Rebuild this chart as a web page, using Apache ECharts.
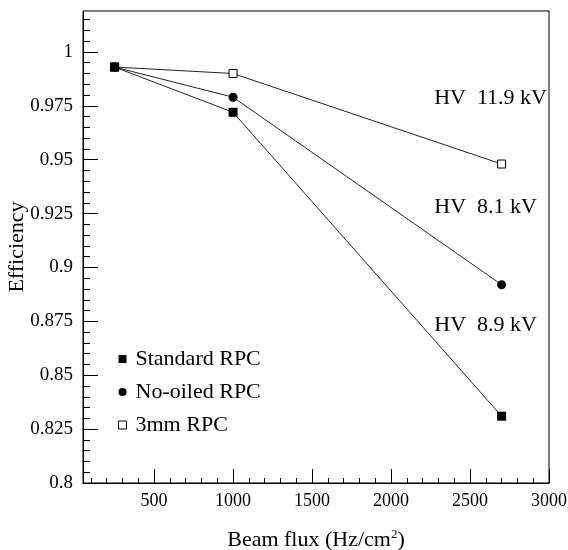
<!DOCTYPE html>
<html>
<head>
<meta charset="utf-8">
<script src="https://cdn.jsdelivr.net/npm/echarts@6/dist/echarts.min.js"></script>
<style>
  html, body { margin: 0; padding: 0; background: #fff; }
  #chart { width: 568px; height: 550px; }
</style>
</head>
<body>
<div id="chart"></div>
<script>
// beam flux values (Hz/cm^2)
const flux = [250, 1000, 2700];
// efficiency per chamber type
const standardRPC = [0.993, 0.972, 0.831];
const noOiledRPC = [0.993, 0.979, 0.892];
const mm3RPC = [0.993, 0.990, 0.948];

const xTicks = [500, 1000, 1500, 2000, 2500, 3000];
const yTicks = [0.8, 0.825, 0.85, 0.875, 0.9, 0.925, 0.95, 0.975, 1];

const hvLabels = ['HV  11.9 kV', 'HV  8.1 kV', 'HV  8.9 kV'];

const font = "'Liberation Serif', 'Times New Roman', serif";

// minor tick positions
const xMinor = [];
for (let v = 100; v <= 3000; v += 100) xMinor.push(v);
const yMinor = [];
for (let i = 161; i <= 203; i++) yMinor.push(Math.round(i * 5) / 1000);

const pair = (xs, ys) => xs.map((x, i) => [x, ys[i]]);

const chart = echarts.init(document.getElementById('chart'));

const xBase = { type: 'value', min: 50, max: 3000, splitLine: { show: false }, gridIndex: 0 };
const yBase = { type: 'value', min: 0.8, max: 1.019, splitLine: { show: false }, gridIndex: 0 };

chart.setOption({
  backgroundColor: '#fff',
  animation: false,
  textStyle: { fontFamily: font, color: '#000' },
  grid: {
    left: 83, right: 19, top: 11, bottom: 67,
    outerBoundsMode: 'none',
    containLabel: false,
    show: true, borderColor: '#000', borderWidth: 1
  },
  xAxis: [
    Object.assign({}, xBase, {
      position: 'bottom',
      axisLine: { show: true, lineStyle: { color: '#000', width: 1 } },
      axisTick: { show: true, inside: true, length: 5, customValues: xMinor, lineStyle: { color: '#000' } },
      axisLabel: { show: false }
    }),
    Object.assign({}, xBase, {
      position: 'bottom',
      axisLine: { show: false },
      axisTick: { show: true, inside: true, length: 14, customValues: xTicks, lineStyle: { color: '#000' } },
      axisLabel: {
        show: true, customValues: xTicks, margin: 9, fontSize: 18, fontFamily: font, color: '#000',
        formatter: v => String(v)
      },
      name: 'Beam flux (Hz/cm{sup|2})',
      nameLocation: 'middle',
      nameMoveOverlap: false,
      nameGap: 45,
      nameTextStyle: {
        fontSize: 22, fontFamily: font, color: '#000',
        rich: { sup: { fontSize: 13, fontFamily: font, color: '#000', verticalAlign: 'bottom', padding: [0, 0, 12, 0] } }
      }
    })
  ],
  yAxis: [
    Object.assign({}, yBase, {
      position: 'left',
      axisLine: { show: true, lineStyle: { color: '#000', width: 1 } },
      axisTick: { show: true, inside: true, length: 7, customValues: yMinor, lineStyle: { color: '#000' } },
      axisLabel: { show: false }
    }),
    Object.assign({}, yBase, {
      position: 'left',
      axisLine: { show: false },
      axisTick: { show: true, inside: true, length: 15, customValues: yTicks, lineStyle: { color: '#000' } },
      axisLabel: {
        show: true, customValues: yTicks, margin: 10, fontSize: 19, fontFamily: font, color: '#000',
        formatter: v => String(v)
      },
      name: 'Efficiency',
      nameLocation: 'middle',
      nameMoveOverlap: false,
      nameGap: 55,
      nameTextStyle: { fontSize: 22, fontFamily: font, color: '#000' }
    })
  ],
  legend: {
    orient: 'vertical',
    left: 113,
    top: 343,
    itemWidth: 8,
    itemHeight: 8,
    itemGap: 11,
    textStyle: { fontSize: 22, fontFamily: font, color: '#000', lineHeight: 22, padding: [0, 0, 0, 4] },
    data: [
      { name: 'Standard RPC', icon: 'rect', itemStyle: { color: '#000' } },
      { name: 'No-oiled RPC', icon: 'circle', itemStyle: { color: '#000' } },
      { name: '3mm RPC', icon: 'rect', itemStyle: { color: '#fff', borderColor: '#000', borderWidth: 1 } }
    ]
  },
  series: [
    {
      name: '3mm RPC', type: 'line', xAxisIndex: 0, yAxisIndex: 0,
      data: pair(flux, mm3RPC),
      symbol: 'rect', symbolSize: 8,
      lineStyle: { color: '#222', width: 1 },
      itemStyle: { color: '#fff', borderColor: '#000', borderWidth: 1 }
    },
    {
      name: 'No-oiled RPC', type: 'line', xAxisIndex: 0, yAxisIndex: 0,
      data: pair(flux, noOiledRPC),
      symbol: 'circle', symbolSize: 9,
      lineStyle: { color: '#222', width: 1 },
      itemStyle: { color: '#000' }
    },
    {
      name: 'Standard RPC', type: 'line', xAxisIndex: 0, yAxisIndex: 0,
      data: pair(flux, standardRPC),
      symbol: 'rect', symbolSize: 9,
      lineStyle: { color: '#222', width: 1 },
      itemStyle: { color: '#000' }
    }
  ],
  graphic: [
    { type: 'text', x: 547, y: 98, style: { text: hvLabels[0], align: 'right', verticalAlign: 'middle', fontSize: 22, fontFamily: font, fill: '#000' } },
    { type: 'text', x: 537, y: 207, style: { text: hvLabels[1], align: 'right', verticalAlign: 'middle', fontSize: 22, fontFamily: font, fill: '#000' } },
    { type: 'text', x: 537, y: 325, style: { text: hvLabels[2], align: 'right', verticalAlign: 'middle', fontSize: 22, fontFamily: font, fill: '#000' } }
  ]
});
</script>
</body>
</html>
